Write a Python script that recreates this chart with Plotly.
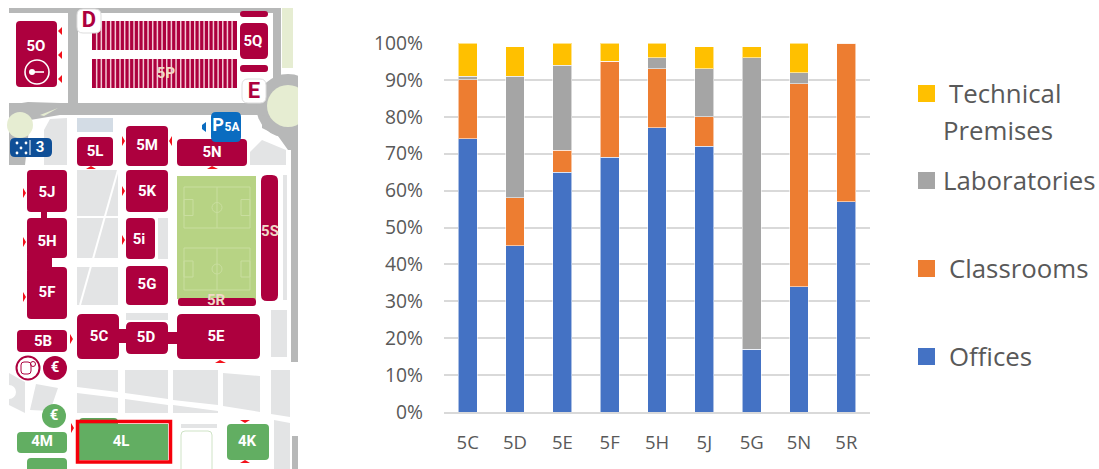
import plotly.graph_objects as go

# Share of floor area by use, per building (percent)
buildings = ["5C", "5D", "5E", "5F", "5H", "5J", "5G", "5N", "5R"]
offices = [74, 45, 65, 69, 77, 72, 17, 34, 57]
classrooms = [16, 13, 6, 26, 16, 8, 0, 55, 43]
laboratories = [1, 33, 23, 0, 3, 13, 79, 3, 0]
technical = [9, 8, 6, 5, 4, 6, 3, 8, 0]
percent_ticks = list(range(0, 101, 10))

W, H = 1099, 469
BLUE, ORANGE, GREY, YELLOW = "#4472c4", "#ed7d31", "#a5a5a5", "#ffc000"
TEXT = "#595959"
CRIMSON = "#ad003e"
GREEN = "#62ae62"
ROAD = "#b7b8b8"
PATH = "#e3e4e5"
PALE = "#e6edd2"
RED = "#f2101a"

shapes = []


def add(shape):
    shape.update(xref="x2", yref="y2", layer="below")
    shapes.append(shape)


def box(x0, y0, x1, y1, color):
    add(dict(type="rect", x0=x0, y0=y0, x1=x1, y1=y1, fillcolor=color, line=dict(width=0)))


def rbox(x0, y0, x1, y1, r, color, outline=None, lw=0):
    d = (f"M{x0+r},{y0} L{x1-r},{y0} Q{x1},{y0} {x1},{y0+r} L{x1},{y1-r} Q{x1},{y1} {x1-r},{y1} "
         f"L{x0+r},{y1} Q{x0},{y1} {x0},{y1-r} L{x0},{y0+r} Q{x0},{y0} {x0+r},{y0} Z")
    add(dict(type="path", path=d, fillcolor=color, line=dict(width=lw, color=outline or color)))


def poly(points, color):
    d = "M" + " L".join(f"{x},{y}" for x, y in points) + " Z"
    add(dict(type="path", path=d, fillcolor=color, line=dict(width=0)))


def disc(cx, cy, r, color, outline=None, lw=0):
    add(dict(type="circle", x0=cx - r, y0=cy - r, x1=cx + r, y1=cy + r, fillcolor=color,
             line=dict(width=lw, color=outline or color)))


def seg(x0, y0, x1, y1, color, lw=1.0):
    add(dict(type="line", x0=x0, y0=y0, x1=x1, y1=y1, line=dict(color=color, width=lw)))


# --- Campus plan: roads and open ground ---
box(9, 8, 273, 13, ROAD)
box(68, 8, 78, 105, ROAD)
box(273, 8, 281, 85, ROAD)
box(9, 103, 260, 115, ROAD)
box(282, 8, 293, 68, PALE)
disc(288, 106, 32, ROAD)
poly([(262, 115), (262, 128), (278, 136), (288, 150), (298, 150), (298, 125)], ROAD)
disc(288, 106, 21, PALE)
box(291, 140, 298, 362, ROAD)
box(292, 436, 298, 469, ROAD)
poly([(9, 105), (28, 102), (60, 103), (60, 115), (30, 120), (25, 165), (9, 165)], ROAD)
disc(20, 125, 13, PALE)
poly([(40, 115), (58, 108), (44, 116)], PALE)

# Pedestrian blocks between buildings
poly([(50, 119), (67, 118), (67, 165), (44, 165), (44, 130)], PATH)
poly([(250, 152), (262, 140), (286, 150), (286, 165), (250, 165)], PATH)
box(283, 175, 287, 300, PATH)
box(271, 310, 287, 357, PATH)
poly([(77, 170), (118, 170), (118, 258), (77, 258)], PATH)
poly([(77, 267), (118, 267), (118, 305), (77, 305)], PATH)
seg(118, 170, 80, 305, "#ffffff", 2)
seg(77, 217, 118, 217, "#ffffff", 2)
box(158, 218, 168, 259, PATH)
box(126, 313, 168, 320, PATH)
poly([(77, 370), (118, 370), (118, 392), (77, 387)], PATH)
poly([(125, 370), (168, 370), (168, 399), (125, 393)], PATH)
poly([(173, 370), (218, 370), (218, 405), (173, 400)], PATH)
poly([(223, 373), (260, 376), (260, 412), (223, 406)], PATH)
poly([(271, 370), (290, 370), (290, 417), (271, 414)], PATH)
poly([(77, 393), (118, 398), (118, 413), (77, 413)], PATH)
poly([(125, 399), (168, 405), (168, 413), (125, 413)], PATH)
poly([(173, 405), (218, 411), (218, 413), (173, 413)], PATH)
poly([(9, 373), (25, 382), (25, 413), (9, 405)], PATH)
poly([(36, 384), (58, 388), (50, 411), (30, 410)], PATH)
disc(9, 392, 7, "#ffffff")
box(181, 424, 217, 428, PATH)
poly([(274, 420), (290, 423), (290, 469), (274, 469)], PATH)

# Sports ground with its two pitches
box(177, 176, 256, 299, "#b7d384")
FIELD_LINE = "#c9de9f"
for top, bottom in [(187, 228), (248, 290)]:
    mid = (top + bottom) / 2
    add(dict(type="rect", x0=184, y0=top, x1=250, y1=bottom, line=dict(color=FIELD_LINE, width=1)))
    seg(217, top, 217, bottom, FIELD_LINE)
    disc(217, mid, 5, "rgba(0,0,0,0)", FIELD_LINE, 1)
    add(dict(type="rect", x0=184, y0=mid - 8, x1=193, y1=mid + 8, line=dict(color=FIELD_LINE, width=1)))
    add(dict(type="rect", x0=241, y0=mid - 8, x1=250, y1=mid + 8, line=dict(color=FIELD_LINE, width=1)))

# --- Buildings ---
for x0, y0, x1, y1, r in [
    (16, 21, 57, 87, 4), (240, 23, 268, 59, 5), (240, 11, 268, 17, 3), (240, 65, 268, 72, 3),
    (77, 137, 113, 166, 4), (126, 126, 168, 166, 4), (177, 139, 247, 166, 4),
    (27, 170, 67, 212, 4), (27, 218, 67, 258, 4), (27, 267, 67, 319, 4),
    (126, 170, 168, 212, 4), (126, 218, 155, 259, 4), (126, 266, 168, 305, 4),
    (178, 298, 256, 306, 3), (261, 175, 278, 301, 6),
    (77, 314, 119, 359, 5), (126, 322, 168, 354, 5), (177, 314, 260, 359, 5), (17, 330, 67, 352, 4),
]:
    rbox(x0, y0, x1, y1, r, CRIMSON)
box(41, 210, 47, 220, CRIMSON)
box(27, 255, 52, 270, CRIMSON)
box(118, 329, 127, 343, CRIMSON)
box(167, 332, 178, 344, CRIMSON)

# Parking rows of building 5P
for y0, y1 in [(21, 50), (59, 88)]:
    box(92, y0, 237, y1, CRIMSON)
    for k in range(1, 31):
        x = 92 + k * 4.67
        seg(x, y0, x, y1, "#f3c7d4", 1.5)

box(77, 118, 113, 132, "#d3dce5")

# Gate markers
rbox(77, 9, 101, 33, 6, "#ffffff", "#dddddd", 1)
rbox(242, 79, 266, 103, 6, "#ffffff", "#dddddd", 1)

# Parking and metro signs
rbox(211, 112, 241, 142, 5, "#0a6cc0")
poly([(206, 122), (206, 132), (202, 129), (202, 125)], "#0a6cc0")
rbox(10, 138, 52, 157, 5, "#0f4f97")
seg(30, 140, 30, 155, "#ffffff", 1)
for cx, cy in [(17, 143), (26, 143), (21, 148), (17, 153), (26, 153)]:
    disc(cx, cy, 1.4, "#ffffff")

# Key symbol on 5O
disc(37, 72, 12, "rgba(0,0,0,0)", "#ffffff", 1.6)
disc(32, 72, 3, "#ffffff")
seg(33, 72, 44, 72, "#ffffff", 1.6)

# Services
disc(28, 368, 11.5, "#ffffff", CRIMSON, 2)
rbox(21, 362, 31, 374, 3, "#ffffff", CRIMSON, 1)
disc(33, 364, 2.5, "rgba(0,0,0,0)", CRIMSON, 1)
disc(55, 368, 12, CRIMSON)
disc(54, 416, 12, GREEN)

# Entrance ticks on the buildings
for pts in [
    [(62, 27), (62, 35), (58, 31)], [(62, 51), (62, 59), (58, 55)], [(62, 75), (62, 83), (58, 79)],
    [(122, 136), (122, 146), (125, 141)], [(172, 136), (172, 146), (169, 141)],
    [(86, 169), (96, 169), (91, 166)], [(207, 169), (218, 169), (212, 166)],
    [(23, 188), (23, 198), (26, 193)], [(122, 186), (122, 196), (125, 191)],
    [(23, 237), (23, 247), (26, 242)], [(122, 235), (122, 245), (125, 240)],
    [(23, 292), (23, 302), (26, 297)], [(70, 334), (70, 344), (73, 339)],
    [(215, 363), (226, 363), (220, 360)], [(71, 423), (71, 433), (74, 428)],
    [(240, 420), (250, 420), (245, 423)], [(240, 463), (250, 463), (245, 460)],
]:
    poly(pts, RED)

# --- Building 4L and its neighbours ---
rbox(79, 418, 118, 428, 4, "#5ba65b")
rbox(17, 432, 67, 453, 4, GREEN)
rbox(27, 458, 67, 475, 4, GREEN)
rbox(227, 424, 269, 460, 4, GREEN)
box(79, 424, 168, 460, GREEN)
add(dict(type="rect", x0=77.5, y0=421.5, x1=170.5, y1=462, line=dict(color="#f5000a", width=3.5)))
rbox(181, 431, 212, 475, 4, "#ffffff", "#cfe3c6", 1)

# Legend swatches
for y0, color in [(85, YELLOW), (172, GREY), (260, ORANGE), (348, BLUE)]:
    box(918, y0, 935, y0 + 17, color)
# White mask trimming anything that runs past the plan
box(298, 0, 340, 469, "#ffffff")

map_labels = [
    ("5O", 36, 47), ("5Q", 253, 42), ("5L", 95, 152), ("5M", 147, 146),
    ("5N", 212, 153), ("5J", 47, 193), ("5H", 47, 242), ("5F", 47, 293), ("5K", 147, 192),
    ("5i", 139, 240), ("5G", 147, 285), ("5C", 99, 337),
    ("5D", 146, 338), ("5E", 216, 337), ("5B", 43, 342), ("4M", 42, 442), ("4L", 121, 442),
    ("4K", 247, 442), ("3", 40, 148), ("€", 55, 368), ("€", 54, 416),
]
pale_labels = [("5P", 166, 74), ("5R", 216, 301), ("5S", 270, 232)]

fig = go.Figure()
for name, values, color in [("Offices", offices, BLUE), ("Classrooms", classrooms, ORANGE),
                            ("Laboratories", laboratories, GREY), ("Technical Premises", technical, YELLOW)]:
    fig.add_trace(go.Bar(x=buildings, y=values, name=name, showlegend=False,
                         marker=dict(color=color, line=dict(color="rgba(255,255,255,0.55)", width=1))))

for labels, color in [(map_labels, "#ffffff"), (pale_labels, "#f0d9c8")]:
    fig.add_trace(go.Scatter(
        x=[t[1] for t in labels], y=[t[2] for t in labels], text=[t[0] for t in labels],
        mode="text", xaxis="x2", yaxis="y2", showlegend=False, hoverinfo="skip",
        textfont=dict(family="Roboto", size=15, color=color, weight="bold"),
    ))
fig.add_trace(go.Scatter(
    x=[89, 254, 218, 232], y=[21, 92, 126, 128], text=["D", "E", "P", "5A"], mode="text", xaxis="x2", yaxis="y2",
    showlegend=False, hoverinfo="skip",
    textfont=dict(family="Roboto", size=[22, 22, 18, 12], color=[CRIMSON, CRIMSON, "#ffffff", "#ffffff"],
                  weight="bold"),
))

annotations = []
for label, x, y in [("Technical", 947, 93), ("Premises", 941, 130), ("Laboratories", 941, 180),
                    ("Classrooms", 947, 268), ("Offices", 947, 356)]:
    annotations.append(dict(text=label, x=x, y=y, xref="x2", yref="y2", xanchor="left", yanchor="middle",
                            showarrow=False, align="left",
                            font=dict(family="Open Sans", size=25.8, color=TEXT)))

fig.update_layout(
    width=W, height=H, margin=dict(l=0, r=0, t=0, b=0), autosize=False,
    paper_bgcolor="#ffffff", plot_bgcolor="rgba(0,0,0,0)",
    barmode="stack", bargap=0.6, shapes=shapes, annotations=annotations, showlegend=False,
    font=dict(family="Open Sans", color=TEXT),
    xaxis=dict(domain=[444 / W, 870 / W], type="category", categoryorder="array", categoryarray=buildings,
               automargin=False, showgrid=False, ticks="", showline=True, linecolor="#d9d9d9", linewidth=1.5,
               zeroline=False, tickfont=dict(size=18.5, color=TEXT), ticklabelstandoff=13, anchor="y"),
    yaxis=dict(domain=[1 - 412 / H, 1 - 43 / H], range=[0, 100], tickmode="array", tickvals=percent_ticks,
               ticktext=[f"{v}%" for v in percent_ticks], automargin=False, showgrid=True, gridcolor="#d9d9d9",
               gridwidth=1.5, zeroline=False, ticks="", tickfont=dict(size=19.3, color=TEXT),
               ticklabelstandoff=20, anchor="x"),
    xaxis2=dict(domain=[0, 1], range=[0, W], visible=False, anchor="y2", fixedrange=True, automargin=False),
    yaxis2=dict(domain=[0, 1], range=[H, 0], visible=False, anchor="x2", fixedrange=True, automargin=False),
)

fig.write_html("out.html", config=dict(displayModeBar=False))
